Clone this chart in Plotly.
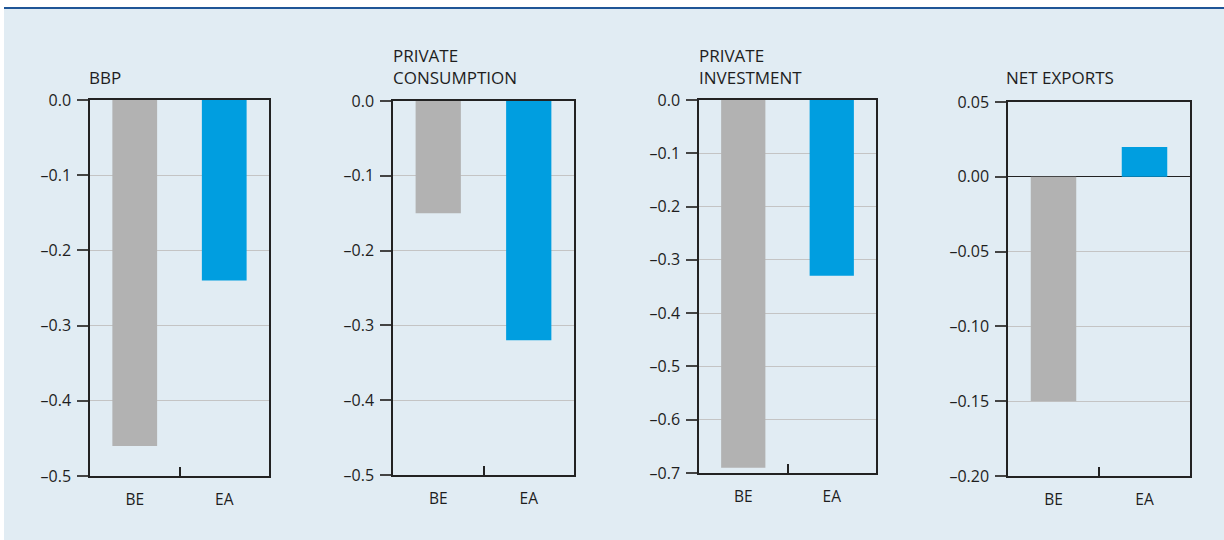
import plotly.graph_objects as go
from plotly.subplots import make_subplots

W, H = 1224, 540

categories = ["BE", "EA"]
titles = ["BBP", "PRIVATE<br>CONSUMPTION", "PRIVATE<br>INVESTMENT", "NET EXPORTS"]
values = [
    [-0.46, -0.24],
    [-0.15, -0.32],
    [-0.69, -0.33],
    [-0.15, 0.02],
]
y_ranges = [[-0.5, 0.0], [-0.5, 0.0], [-0.7, 0.0], [-0.2, 0.05]]
y_tickvals = [
    [0.0, -0.1, -0.2, -0.3, -0.4, -0.5],
    [0.0, -0.1, -0.2, -0.3, -0.4, -0.5],
    [0.0, -0.1, -0.2, -0.3, -0.4, -0.5, -0.6, -0.7],
    [0.05, 0.0, -0.05, -0.10, -0.15, -0.20],
]
y_ticktext = [
    ["0.0", "–0.1", "–0.2", "–0.3", "–0.4", "–0.5"],
    ["0.0", "–0.1", "–0.2", "–0.3", "–0.4", "–0.5"],
    ["0.0", "–0.1", "–0.2", "–0.3", "–0.4", "–0.5", "–0.6", "–0.7"],
    ["0.05", "0.00", "–0.05", "–0.10", "–0.15", "–0.20"],
]
bar_colors = ["#b2b2b2", "#009ee0"]

# panel pixel boxes (left, right, top, bottom)
boxes = [(90, 269, 100, 476), (393, 574, 101, 475), (699, 876, 100, 473), (1008, 1190, 102, 476)]
title_x = [87, 391, 697, 1004]

fig = make_subplots(rows=1, cols=4)
FONT = "Open Sans"
TXT = "#1e1e1e"

for i in range(4):
    fig.add_trace(
        go.Bar(x=categories, y=values[i], marker=dict(color=bar_colors, line=dict(width=0)),
               showlegend=False, hoverinfo="x+y"),
        row=1, col=i + 1,
    )
    l, r, t, b = boxes[i]
    xa = "xaxis" if i == 0 else f"xaxis{i+1}"
    ya = "yaxis" if i == 0 else f"yaxis{i+1}"
    fig.layout[xa].update(
        domain=[l / W, r / W], type="category", tickson="boundaries", ticks="inside",
        ticklen=9, tickwidth=1.5, tickcolor="#222", showline=True, linecolor="#222",
        linewidth=1.5, mirror=True, showgrid=False, ticklabelstandoff=9, automargin=False,
        tickfont=dict(family=FONT, size=15.5, color=TXT), fixedrange=True,
    )
    fig.layout[ya].update(
        domain=[1 - b / H, 1 - t / H], range=y_ranges[i], automargin=False,
        tickmode="array", tickvals=y_tickvals[i], ticktext=y_ticktext[i],
        ticks="outside", ticklen=11, tickwidth=1.5, tickcolor="#444",
        showline=True, linecolor="#222", linewidth=1.5, mirror=True,
        showgrid=True, gridcolor="#c4c4c4", gridwidth=1,
        zeroline=(i == 3), zerolinecolor="#222", zerolinewidth=1.2,
        ticklabelstandoff=3, tickfont=dict(family=FONT, size=16, color=TXT), fixedrange=True,
    )
    fig.add_annotation(
        text=titles[i], xref="paper", yref="paper", x=title_x[i] / W, y=1 - 91 / H,
        xanchor="left", yanchor="bottom", align="left", showarrow=False,
        font=dict(family=FONT, size=17, color=TXT),
    )

fig.update_layout(
    width=W, height=H, autosize=False, margin=dict(l=0, r=0, t=0, b=0, pad=0),
    paper_bgcolor="white", plot_bgcolor="white", bargap=0.5,
    shapes=[
        dict(type="rect", xref="paper", yref="paper", x0=4 / W, x1=1, y0=0, y1=1 - 9 / H,
             fillcolor="#e1ecf3", line=dict(width=0), layer="below"),
        dict(type="line", xref="paper", yref="paper", x0=4 / W, x1=1, y0=1 - 8 / H, y1=1 - 8 / H,
             line=dict(color="#1f5597", width=2), layer="below"),
    ],
)

fig.write_html("out.html")
